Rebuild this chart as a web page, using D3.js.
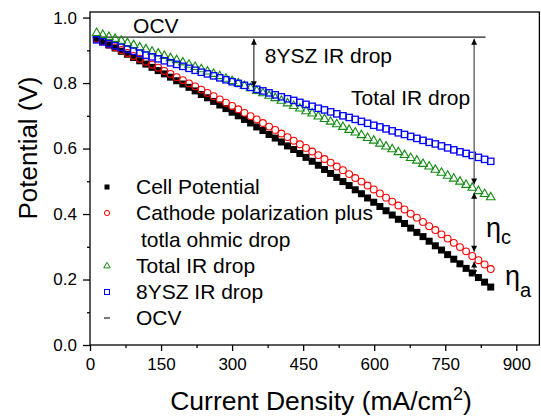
<!DOCTYPE html>
<html>
<head>
<meta charset="utf-8">
<script src="https://cdn.jsdelivr.net/npm/d3@7"></script>
<style>
  html, body { margin: 0; padding: 0; background: #fff; }
  svg { display: block; font-family: "Liberation Sans", Arial, sans-serif; }
</style>
</head>
<body>
<div id="chart"></div>
<script>
// current density (mA/cm2)
var current = [14, 27, 40, 53, 66, 79, 92, 105, 118, 131, 144, 157, 170, 183, 196, 209,
  222, 235, 248, 261, 274, 287, 300, 313, 326, 339, 352, 365, 378, 391, 404, 417,
  430, 443, 456, 469, 482, 495, 508, 521, 534, 547, 560, 573, 586, 599, 612, 625,
  638, 651, 664, 677, 690, 703, 716, 729, 742, 755, 768, 781, 794, 807, 820, 833, 846];

var cellPotential = [0.935, 0.926, 0.916, 0.907, 0.897, 0.888, 0.878, 0.868, 0.858, 0.848,
  0.838, 0.828, 0.818, 0.807, 0.797, 0.787, 0.776, 0.765, 0.755, 0.744, 0.733, 0.722,
  0.711, 0.700, 0.689, 0.678, 0.666, 0.655, 0.643, 0.632, 0.620, 0.608, 0.597, 0.585,
  0.573, 0.561, 0.549, 0.536, 0.524, 0.512, 0.499, 0.487, 0.474, 0.462, 0.449, 0.436,
  0.423, 0.410, 0.397, 0.384, 0.371, 0.357, 0.344, 0.331, 0.317, 0.303, 0.290, 0.276,
  0.262, 0.248, 0.234, 0.220, 0.206, 0.192, 0.177];

var cathodePlusOhmic = [0.935, 0.927, 0.918, 0.909, 0.901, 0.892, 0.883, 0.874, 0.865, 0.856,
  0.847, 0.837, 0.828, 0.818, 0.809, 0.799, 0.790, 0.780, 0.770, 0.760, 0.750, 0.740,
  0.730, 0.720, 0.709, 0.699, 0.689, 0.678, 0.667, 0.657, 0.646, 0.635, 0.624, 0.613,
  0.602, 0.591, 0.580, 0.568, 0.557, 0.545, 0.534, 0.522, 0.510, 0.499, 0.487, 0.475,
  0.463, 0.450, 0.438, 0.426, 0.414, 0.401, 0.389, 0.376, 0.363, 0.351, 0.338, 0.325,
  0.312, 0.299, 0.286, 0.272, 0.259, 0.246, 0.232];

var totalIR = [0.953, 0.947, 0.941, 0.935, 0.929, 0.922, 0.916, 0.909, 0.903, 0.896,
  0.890, 0.883, 0.876, 0.870, 0.863, 0.856, 0.849, 0.842, 0.835, 0.828, 0.821, 0.813,
  0.806, 0.799, 0.791, 0.784, 0.776, 0.769, 0.761, 0.754, 0.746, 0.738, 0.730, 0.722,
  0.714, 0.707, 0.698, 0.690, 0.682, 0.674, 0.666, 0.657, 0.649, 0.641, 0.632, 0.624,
  0.615, 0.606, 0.598, 0.589, 0.580, 0.571, 0.563, 0.553, 0.545, 0.535, 0.526, 0.517,
  0.508, 0.499, 0.489, 0.480, 0.470, 0.461, 0.451];

var ysz8IR = [0.932, 0.926, 0.920, 0.914, 0.909, 0.903, 0.897, 0.891, 0.885, 0.880,
  0.874, 0.868, 0.862, 0.857, 0.851, 0.845, 0.839, 0.833, 0.828, 0.822, 0.816, 0.810,
  0.804, 0.799, 0.793, 0.787, 0.781, 0.776, 0.770, 0.764, 0.758, 0.752, 0.747, 0.741,
  0.735, 0.729, 0.723, 0.718, 0.712, 0.706, 0.700, 0.695, 0.689, 0.683, 0.677, 0.671,
  0.666, 0.660, 0.654, 0.648, 0.643, 0.637, 0.631, 0.625, 0.619, 0.614, 0.608, 0.602,
  0.596, 0.590, 0.585, 0.579, 0.573, 0.567, 0.561];

var ocvCurrent = [5, 835];
var ocvPotential = [0.94, 0.94];

var xTicks = [0, 150, 300, 450, 600, 750, 900];
var xMinor = [75, 225, 375, 525, 675, 825];
var yTicks = [0.0, 0.2, 0.4, 0.6, 0.8, 1.0];
var yMinor = [0.1, 0.3, 0.5, 0.7, 0.9];

var width = 541, height = 420;
var margin = {top: 12, right: 1, bottom: 75, left: 90};

var svg = d3.select('#chart').append('svg')
    .attr('width', width).attr('height', height);

var x = d3.scaleLinear().domain([0, 950]).range([margin.left, width - margin.right]);
var y = d3.scaleLinear().domain([0, 1.017]).range([height - margin.bottom, margin.top]);

var defs = svg.append('defs');
defs.append('clipPath').attr('id', 'plot-clip').append('rect')
    .attr('x', x(0)).attr('y', y(1.017))
    .attr('width', x(950) - x(0)).attr('height', y(0) - y(1.017));
defs.append('marker').attr('id', 'head')
    .attr('viewBox', '0 0 10 10').attr('refX', 10).attr('refY', 5)
    .attr('markerWidth', 9).attr('markerHeight', 6)
    .attr('markerUnits', 'userSpaceOnUse')
    .attr('orient', 'auto-start-reverse')
    .append('path').attr('d', 'M0,0 L10,5 L0,10 z').attr('fill', '#000');

// axes
svg.append('g').attr('transform', 'translate(0,' + y(0) + ')')
    .call(d3.axisBottom(x).tickValues(xTicks).tickFormat(d3.format('d'))
        .tickSize(6).tickPadding(7));
svg.append('g').attr('transform', 'translate(0,' + y(0) + ')')
    .call(d3.axisBottom(x).tickValues(xMinor).tickFormat('').tickSize(3));
svg.append('g').attr('transform', 'translate(' + x(0) + ',0)')
    .call(d3.axisLeft(y).tickValues(yTicks).tickFormat(d3.format('.1f'))
        .tickSize(7).tickPadding(6));
svg.append('g').attr('transform', 'translate(' + x(0) + ',0)')
    .call(d3.axisLeft(y).tickValues(yMinor).tickFormat('').tickSize(3));

svg.selectAll('.domain').remove();
svg.selectAll('.tick line').attr('stroke', '#000').attr('stroke-width', 1.3);
svg.selectAll('.tick text').attr('fill', '#000').style('font-size', '17px')
    .style('font-family', '"Liberation Sans", Arial, sans-serif');

svg.append('rect')
    .attr('x', x(0)).attr('y', y(1.017))
    .attr('width', x(950) - x(0) - 0.6).attr('height', y(0) - y(1.017))
    .attr('fill', 'none').attr('stroke', '#000').attr('stroke-width', 1.3);

// axis titles
var xt = svg.append('text')
    .attr('x', 321).attr('y', 410)
    .attr('text-anchor', 'middle')
    .style('font-size', '26.5px');
xt.append('tspan').text('Current Density (mA/cm');
xt.append('tspan').attr('dy', -10).style('font-size', '18px').text('2');
xt.append('tspan').attr('dy', 10).text(')');

svg.append('text')
    .attr('transform', 'translate(37,148) rotate(-90)')
    .attr('text-anchor', 'middle')
    .style('font-size', '26px')
    .text('Potential (V)');

var plot = svg.append('g').attr('clip-path', 'url(#plot-clip)');

// OCV line
plot.append('path')
    .datum(d3.zip(ocvCurrent, ocvPotential))
    .attr('d', d3.line().x(function(d) { return x(d[0]); }).y(function(d) { return y(d[1]); }))
    .attr('fill', 'none').attr('stroke', '#222').attr('stroke-width', 1.3);

// series
function squareSeries(vals, filled, color, side) {
    plot.append('g').selectAll('rect')
        .data(d3.zip(current, vals))
        .enter().append('rect')
        .attr('x', function(d) { return x(d[0]) - side / 2; })
        .attr('y', function(d) { return y(d[1]) - side / 2; })
        .attr('width', side).attr('height', side)
        .attr('fill', filled ? color : 'none')
        .attr('stroke', filled ? 'none' : color)
        .attr('stroke-width', 1.3);
}

squareSeries(cellPotential, true, '#000', 7);

plot.append('g').selectAll('circle')
    .data(d3.zip(current, cathodePlusOhmic))
    .enter().append('circle')
    .attr('cx', function(d) { return x(d[0]); })
    .attr('cy', function(d) { return y(d[1]); })
    .attr('r', 3.4)
    .attr('fill', 'none').attr('stroke', '#ff0000').attr('stroke-width', 1.1);

var tri = d3.symbol().type(d3.symbolTriangle).size(32);
plot.append('g').selectAll('path')
    .data(d3.zip(current, totalIR))
    .enter().append('path')
    .attr('d', tri)
    .attr('transform', function(d) { return 'translate(' + x(d[0]) + ',' + y(d[1]) + ')'; })
    .attr('fill', 'none').attr('stroke', '#138a13').attr('stroke-width', 1.1);

squareSeries(ysz8IR, false, '#0000ff', 6.3);

// annotation arrows
function arrow(xv, y1, y2, color, w) {
    svg.append('line')
        .attr('x1', x(xv)).attr('x2', x(xv))
        .attr('y1', y(y1)).attr('y2', y(y2))
        .attr('stroke', color).attr('stroke-width', w)
        .attr('marker-start', 'url(#head)').attr('marker-end', 'url(#head)');
}
arrow(346, 0.935, 0.787, '#000', 1);
arrow(811, 0.935, 0.49, '#777', 1.6);
arrow(811, 0.465, 0.285, '#777', 1.6);
arrow(811, 0.255, 0.21, '#777', 1.6);

// annotation labels
var ann = svg.append('g').style('font-size', '21px');
ann.append('text').attr('x', x(91)).attr('y', y(0.952)).text('OCV');
ann.append('text').attr('x', x(369)).attr('y', y(0.86)).text('8YSZ IR drop');
ann.append('text').attr('x', x(551)).attr('y', y(0.732)).text('Total IR drop');
var etac = ann.append('text').attr('x', x(836)).attr('y', y(0.33)).style('font-size', '27px');
etac.append('tspan').text('\u03b7');
etac.append('tspan').attr('dy', 7).style('font-size', '20px').text('c');
var etaa = ann.append('text').attr('x', x(876)).attr('y', y(0.183)).style('font-size', '27px');
etaa.append('tspan').text('\u03b7');
etaa.append('tspan').attr('dy', 12).style('font-size', '20px').text('a');

// legend
var legend = svg.append('g').style('font-size', '21px');
var rowY = [187, 213, 266, 292, 318];
legend.append('rect').attr('x', 104.5).attr('y', rowY[0] - 2.5).attr('width', 5).attr('height', 5).attr('fill', '#000');
legend.append('circle').attr('cx', 107).attr('cy', rowY[1]).attr('r', 2.6)
    .attr('fill', 'none').attr('stroke', '#ff0000').attr('stroke-width', 1);
legend.append('path').attr('d', d3.symbol().type(d3.symbolTriangle).size(18))
    .attr('transform', 'translate(107,' + rowY[2] + ')')
    .attr('fill', 'none').attr('stroke', '#138a13').attr('stroke-width', 1);
legend.append('rect').attr('x', 104.5).attr('y', rowY[3] - 2.5).attr('width', 5).attr('height', 5)
    .attr('fill', 'none').attr('stroke', '#0000ff').attr('stroke-width', 1);
legend.append('line').attr('x1', 104).attr('x2', 110).attr('y1', rowY[4]).attr('y2', rowY[4])
    .attr('stroke', '#222').attr('stroke-width', 1.2);

var labels = ['Cell Potential', 'Cathode polarization plus', 'Total IR drop', '8YSZ IR drop', 'OCV'];
legend.selectAll('text.lab').data(labels).enter().append('text')
    .attr('class', 'lab')
    .attr('x', 136)
    .attr('y', function(d, i) { return rowY[i] + 7; })
    .text(function(d) { return d; });
legend.append('text').attr('x', 141).attr('y', 247).text('totla ohmic drop');
</script>
</body>
</html>
